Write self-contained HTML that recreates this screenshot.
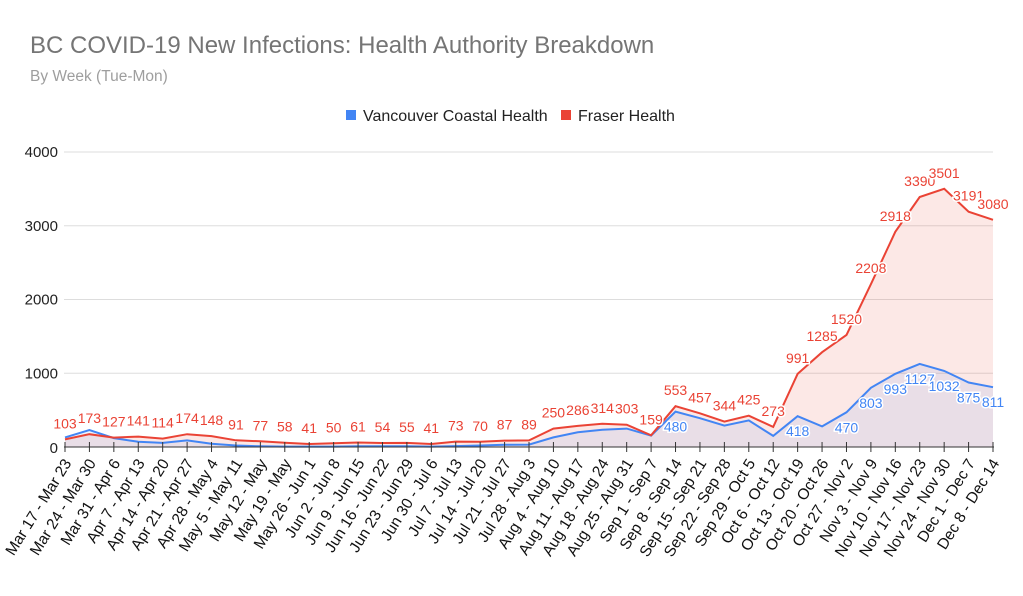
<!DOCTYPE html>
<html><head><meta charset="utf-8"><style>
body{margin:0;background:#fff;}
svg{display:block;font-family:"Liberation Sans",Arial,sans-serif;}
</style></head><body>
<svg id="s" width="1023" height="596" xmlns="http://www.w3.org/2000/svg">
<text x="30" y="53" font-size="24" fill="#757575">BC COVID-19 New Infections: Health Authority Breakdown</text>
<text x="30" y="81" font-size="15.5" fill="#9e9e9e">By Week (Tue-Mon)</text>
<rect x="346" y="110" width="10" height="10" fill="#4285f4"/>
<text x="363" y="121" font-size="16" fill="#222">Vancouver Coastal Health</text>
<rect x="561" y="110" width="10" height="10" fill="#ea4335"/>
<text x="578" y="121" font-size="16" fill="#222">Fraser Health</text>
<g id="g"></g>
</svg>
<script>
var F=[103,173,127,141,114,174,148,91,77,58,41,50,61,54,55,41,73,70,87,89,250,286,314,303,159,553,457,344,425,273,991,1285,1520,2208,2918,3390,3501,3191,3080];
var V=[130,230,120,70,55,90,45,20,10,6,5,6,10,10,10,5,12,20,30,32,130,200,235,250,155,480,390,290,360,150,418,280,470,803,993,1127,1032,875,811];
var L=["Mar 17 - Mar 23","Mar 24 - Mar 30","Mar 31 - Apr 6","Apr 7 - Apr 13","Apr 14 - Apr 20","Apr 21 - Apr 27","Apr 28 - May 4","May 5 - May 11","May 12 - May","May 19 - May","May 26 - Jun 1","Jun 2 - Jun 8","Jun 9 - Jun 15","Jun 16 - Jun 22","Jun 23 - Jun 29","Jun 30 - Jul 6","Jul 7 - Jul 13","Jul 14 - Jul 20","Jul 21 - Jul 27","Jul 28 - Aug 3","Aug 4 - Aug 10","Aug 11 - Aug 17","Aug 18 - Aug 24","Aug 25 - Aug 31","Sep 1 - Sep 7","Sep 8 - Sep 14","Sep 15 - Sep 21","Sep 22 - Sep 28","Sep 29 - Oct 5","Oct 6 - Oct 12","Oct 13 - Oct 19","Oct 20 - Oct 26","Oct 27 - Nov 2","Nov 3 - Nov 9","Nov 10 - Nov 16","Nov 17 - Nov 23","Nov 24 - Nov 30","Dec 1 - Dec 7","Dec 8 - Dec 14"];
var x0=65,x1=993,y0=447,yt=152,n=39,st=(x1-x0)/(n-1);
function X(i){return x0+i*st}function Y(v){return y0-(y0-yt)*v/4000}
var h='';
[1000,2000,3000,4000].forEach(function(v){h+='<line x1="64" x2="993" y1="'+Y(v)+'" y2="'+Y(v)+'" stroke="#ddd"/><text x="58" y="'+(Y(v)+5)+'" font-size="15" fill="#222" text-anchor="end">'+v+'</text>';});
h+='<text x="58" y="453" font-size="15" fill="#222" text-anchor="end">0</text>';
function pts(a){return a.map(function(v,i){return X(i).toFixed(1)+','+Y(v).toFixed(1)}).join(' ')}
h+='<polygon points="'+x0+','+y0+' '+pts(F)+' '+x1+','+y0+'" fill="#ea4335" fill-opacity="0.12"/>';
h+='<polygon points="'+x0+','+y0+' '+pts(V)+' '+x1+','+y0+'" fill="#4285f4" fill-opacity="0.1"/>';
h+='<polyline points="'+pts(V)+'" fill="none" stroke="#4285f4" stroke-width="2"/>';
h+='<polyline points="'+pts(F)+'" fill="none" stroke="#ea4335" stroke-width="2"/>';
h+='<line x1="64" x2="994" y1="447" y2="447" stroke="#333"/>';
for(var i=0;i<n;i++){var x=X(i);h+='<line x1="'+x+'" x2="'+x+'" y1="442" y2="452" stroke="#333"/>';
h+='<text transform="translate('+(x+7)+',463) rotate(-58)" font-size="15.5" fill="#111" text-anchor="end">'+L[i]+'</text>';
h+='<text x="'+x+'" y="'+(Y(F[i])-11)+'" font-size="14" fill="#ea4335" text-anchor="middle" stroke="#fff" stroke-width="3" paint-order="stroke">'+F[i]+'</text>';}
[25,30,32,33,34,35,36,37,38].forEach(function(i){h+='<text x="'+X(i)+'" y="'+(Y(V[i])+20)+'" font-size="14" fill="#4285f4" text-anchor="middle" stroke="#fff" stroke-width="3" paint-order="stroke">'+V[i]+'</text>';});
document.getElementById('g').innerHTML=h;
</script>
</body></html>
